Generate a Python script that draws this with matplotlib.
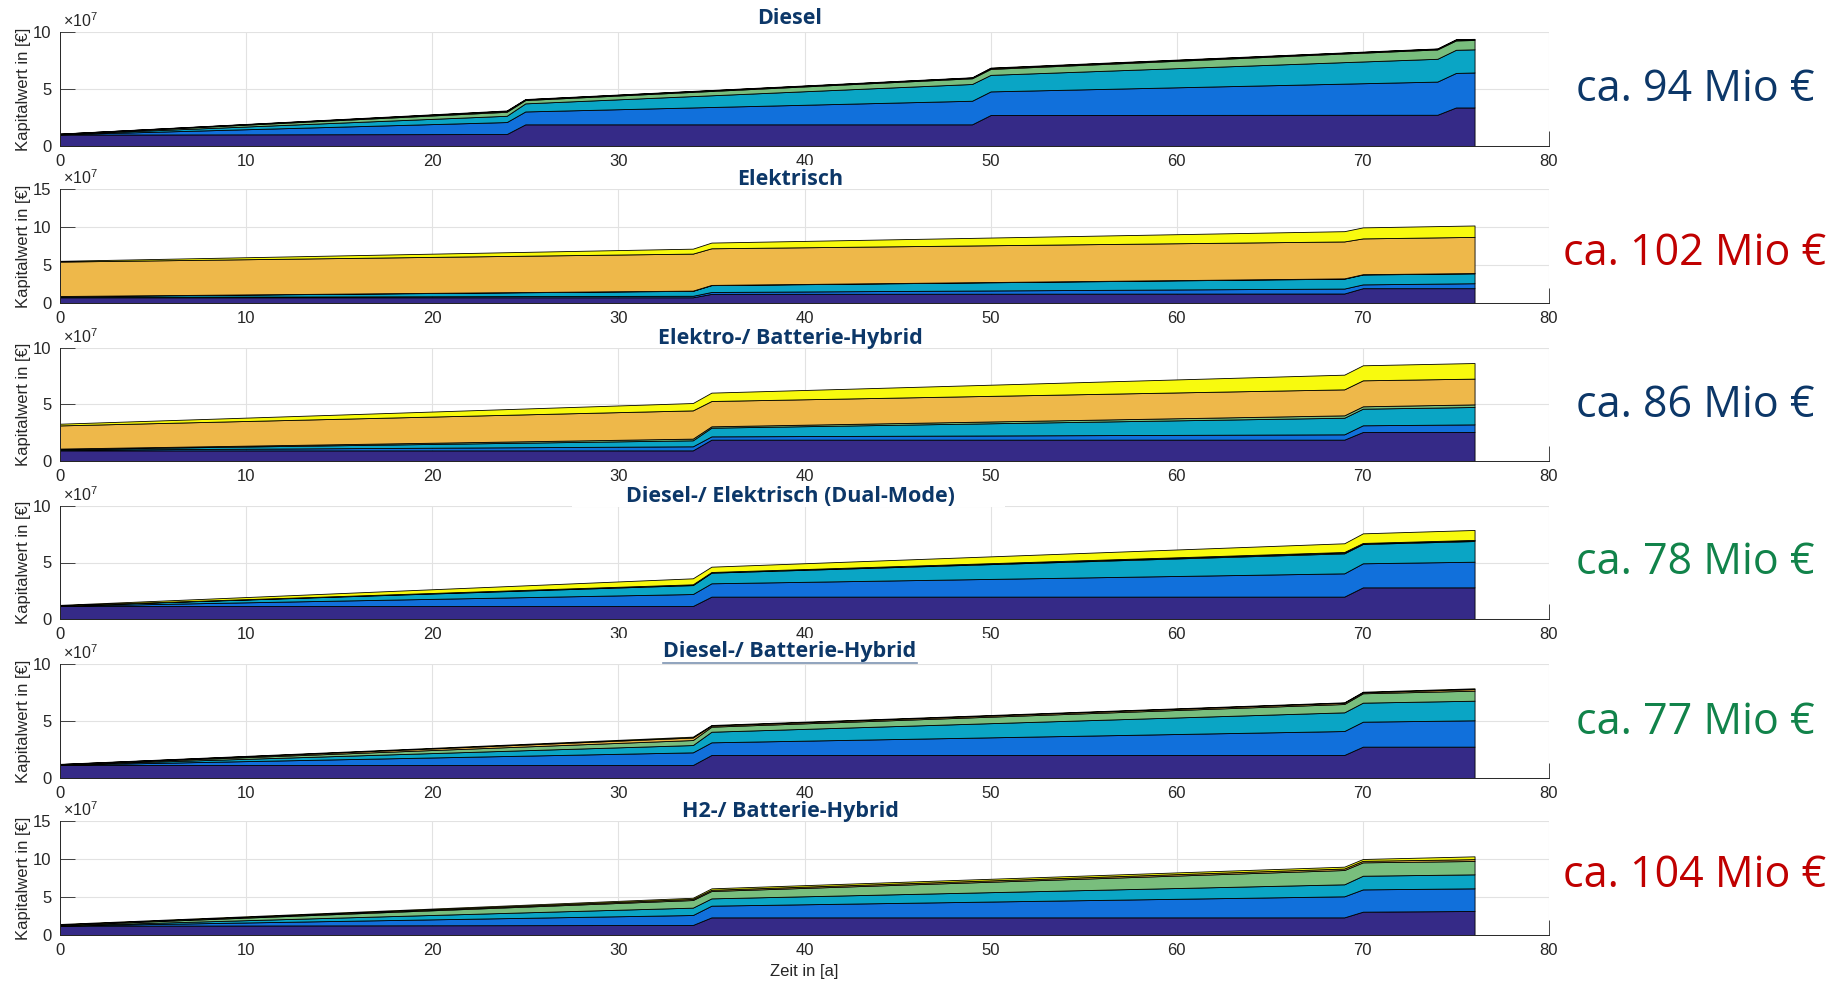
import numpy as np
import matplotlib
matplotlib.use("Agg")
import matplotlib.pyplot as plt
from matplotlib.patches import Rectangle
from matplotlib.lines import Line2D

plt.rcParams['font.family'] = ['Liberation Sans', 'DejaVu Sans']
plt.rcParams['mathtext.fontset'] = 'custom'
plt.rcParams['mathtext.rm'] = 'Liberation Sans'
plt.rcParams['mathtext.it'] = 'Liberation Sans:italic'

# --- Daten: Kapitalwert je Kostenblock, in 10^7 € (gestapelt) ---
diesel_x = [0, 24, 25, 49, 50, 74, 75, 76]
diesel_layers = [
    [1.00, 1.05, 1.90, 1.90, 2.72, 2.74, 3.38, 3.38],
    [0.02, 1.05, 1.13, 2.07, 2.07, 2.91, 3.03, 3.07],
    [0.02, 0.55, 0.71, 1.47, 1.45, 2.00, 2.03, 2.03],
    [0.02, 0.35, 0.29, 0.50, 0.52, 0.82, 0.82, 0.82],
    [0.02, 0.08, 0.06, 0.06, 0.08, 0.06, 0.07, 0.07],
    [0.01, 0.04, 0.03, 0.03, 0.04, 0.03, 0.04, 0.03],
]

elektrisch_x = [0, 34, 35, 69, 70, 76]
elektrisch_layers = [
    [0.75, 0.75, 1.20, 1.25, 1.95, 1.95],
    [0.05, 0.20, 0.25, 0.65, 0.50, 0.65],
    [0.10, 0.65, 0.90, 1.30, 1.30, 1.30],
    [0.02, 0.03, 0.03, 0.04, 0.04, 0.04],
    [4.53, 4.87, 4.82, 4.86, 4.71, 4.76],
    [0.10, 0.65, 0.75, 1.35, 1.45, 1.50],
]

elektro_batt_x = [0, 34, 35, 69, 70, 76]
elektro_batt_layers = [
    [0.94, 0.94, 1.89, 1.89, 2.57, 2.57],
    [0.06, 0.36, 0.29, 0.47, 0.59, 0.67],
    [0.05, 0.53, 0.77, 1.47, 1.47, 1.54],
    [0.05, 0.15, 0.12, 0.21, 0.21, 0.23],
    [2.05, 2.50, 2.24, 2.30, 2.30, 2.28],
    [0.15, 0.65, 0.74, 1.30, 1.33, 1.38],
]

dual_x = [0, 34, 35, 69, 70, 76]
dual_layers = [
    [1.15, 1.15, 1.98, 1.98, 2.80, 2.80],
    [0.02, 1.06, 1.18, 2.06, 2.13, 2.27],
    [0.02, 0.79, 0.94, 1.77, 1.71, 1.83],
    [0.01, 0.05, 0.04, 0.09, 0.06, 0.08],
    [0.01, 0.02, 0.02, 0.03, 0.03, 0.02],
    [0.04, 0.53, 0.47, 0.77, 0.85, 0.88],
]

diesel_batt_x = [0, 34, 35, 69, 70, 76]
diesel_batt_layers = [
    [1.14, 1.14, 2.02, 2.02, 2.75, 2.75],
    [0.02, 1.11, 1.11, 2.10, 2.19, 2.31],
    [0.02, 0.64, 0.93, 1.64, 1.67, 1.72],
    [0.02, 0.44, 0.44, 0.73, 0.82, 0.88],
    [0.02, 0.22, 0.10, 0.11, 0.09, 0.14],
    [0.02, 0.08, 0.05, 0.04, 0.05, 0.07],
]

h2_x = [0, 34, 35, 69, 70, 76]
h2_layers = [
    [1.22, 1.32, 2.32, 2.32, 3.07, 3.16],
    [0.02, 1.31, 1.54, 2.77, 2.93, 2.98],
    [0.02, 0.97, 0.96, 1.58, 1.80, 1.84],
    [0.06, 1.00, 0.97, 1.88, 1.76, 1.76],
    [0.06, 0.15, 0.16, 0.20, 0.20, 0.24],
    [0.07, 0.15, 0.19, 0.24, 0.24, 0.37],
]

titel = ["Diesel", "Elektrisch", "Elektro-/ Batterie-Hybrid",
         "Diesel-/ Elektrisch (Dual-Mode)", "Diesel-/ Batterie-Hybrid",
         "H2-/ Batterie-Hybrid"]
ymax = [10, 15, 10, 10, 10, 15]
summen = ["ca. 94 Mio €", "ca. 102 Mio €", "ca. 86 Mio €",
          "ca. 78 Mio €", "ca. 77 Mio €", "ca. 104 Mio €"]

# --- Stil ---
farben = ['#352a87', '#1170db', '#0aa5c5', '#79be7d', '#eeb84a', '#f8fa0e']
dunkelblau = '#0c3768'
rot = '#c00000'
gruen = '#11834a'
summen_farbe = [dunkelblau, rot, dunkelblau, gruen, gruen, rot]
grau = '#262626'

W_PX, H_PX = 1845, 988
panel_px = [(32, 146), (189, 303), (348, 461), (506, 619), (664, 778), (821, 935)]
titel_y = [18.5, 179.5, 338.5, 496, 651, 811]
titel_box = [None, (711, 165, 878, 189), (628, 323, 948, 348),
             (572, 483, 1005, 507), (600, 638, 990, 663), (639, 802, 936, 821)]
summen_y = [90, 254, 406, 563, 723, 876]

daten = [(diesel_x, diesel_layers), (elektrisch_x, elektrisch_layers),
         (elektro_batt_x, elektro_batt_layers), (dual_x, dual_layers),
         (diesel_batt_x, diesel_batt_layers), (h2_x, h2_layers)]

fig = plt.figure(figsize=(W_PX / 100, H_PX / 100), dpi=100)

L = 60 / W_PX
B = 1489 / W_PX

for i, (x, layers) in enumerate(daten):
    top, bot = panel_px[i]
    ax = fig.add_axes([L, 1 - bot / H_PX, B, (bot - top) / H_PX])
    ax.stackplot(x, *layers, colors=farben, edgecolor='k', linewidth=0.6)
    ax.set_xlim(0, 80)
    ax.set_ylim(0, ymax[i])
    ax.set_xticks(np.arange(0, 81, 10))
    ax.set_yticks(np.arange(0, ymax[i] + 1, 5))
    ax.grid(True, color='#e2e2e2', linewidth=0.8)
    ax.set_axisbelow(True)
    for s in ['top', 'right']:
        ax.spines[s].set_visible(False)
    for s in ['left', 'bottom']:
        ax.spines[s].set_color(grau)
        ax.spines[s].set_linewidth(0.7)
    ax.tick_params(direction='in', length=10.5, width=0.6, colors=grau,
                   labelsize=12, pad=6)
    ax.text(0.002, 1.02, r'$\times$10$^{7}$', transform=ax.transAxes,
            ha='left', va='bottom', fontsize=11.5, color=grau)
    ax.text(-0.0245, 0.5, 'Kapitalwert in [€]', transform=ax.transAxes,
            rotation=90, ha='center', va='center', fontsize=12, color=grau)
    if i == 5:
        ax.set_xlabel('Zeit in [a]', fontsize=12, color=grau, labelpad=4)

    # Titel mit weissem Hintergrund
    if titel_box[i] is not None:
        x0, y0, x1, y1 = titel_box[i]
        fig.add_artist(Rectangle((x0 / W_PX, 1 - y1 / H_PX),
                                 (x1 - x0) / W_PX, (y1 - y0) / H_PX,
                                 transform=fig.transFigure, facecolor='white',
                                 edgecolor='none', zorder=5))
    t = fig.text(790 / W_PX, 1 - titel_y[i] / H_PX, titel[i],
                 family=['Open Sans', 'DejaVu Sans'], fontweight='bold',
                 fontsize=15.5, color=dunkelblau, ha='center', va='center',
                 zorder=6)
    if i == 4:
        fig.canvas.draw()
        bb = t.get_window_extent()
        yl = (bb.y0 - 1) / H_PX
        fig.add_artist(Line2D([bb.x0 / W_PX, bb.x1 / W_PX], [yl, yl],
                              transform=fig.transFigure, color='#7d93b2',
                              linewidth=1.2, zorder=6))

    fig.text(1695 / W_PX, 1 - summen_y[i] / H_PX, summen[i],
             family=['Open Sans', 'DejaVu Sans'], fontsize=31,
             color=summen_farbe[i], ha='center', va='center')

fig.savefig('out.png', dpi=100)
